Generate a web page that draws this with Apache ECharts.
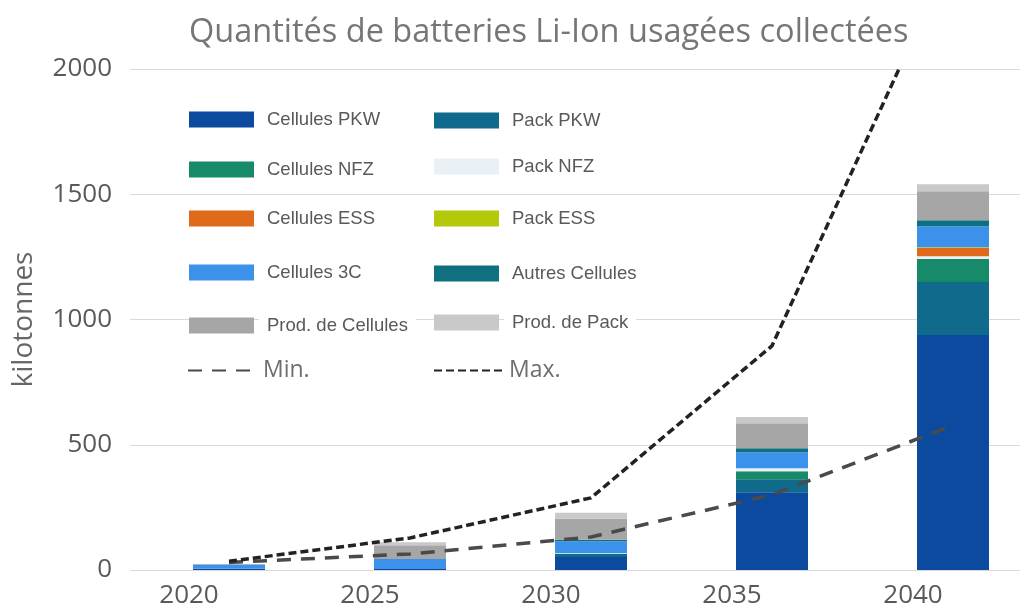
<!DOCTYPE html>
<html><head><meta charset="utf-8">
<script src="https://cdn.jsdelivr.net/npm/echarts@6/dist/echarts.min.js"></script>
<style>html,body{margin:0;padding:0;background:#fff}#c{width:1035px;height:616px}</style>
</head><body><div id="c"></div>
<script>
// ---- data ----
const years = ['2020', '2025', '2030', '2035', '2040'];
const yTicks = [0, 500, 1000, 1500, 2000];
const seriesNames = ['Cellules PKW', 'Pack PKW', 'Cellules NFZ', 'Pack NFZ', 'Cellules ESS', 'Pack ESS', 'Cellules 3C', 'Autres Cellules', 'Prod. de Cellules', 'Prod. de Pack'];
const cellulesPKW    = [5, 4, 52, 310, 938];
const packPKW        = [0, 0, 12, 52, 212];
const cellulesNFZ    = [0, 0, 0, 32, 92];
const packNFZ        = [0, 0, 3, 12, 10];
const cellulesESS    = [0, 0, 0, 0, 34];
const packESS        = [0, 0, 0, 0, 2];
const cellules3C     = [17, 40, 48, 64, 84];
const autresCellules = [0, 0, 6, 16, 24];
const prodCellules   = [2, 55, 84, 100, 116];
const prodPack       = [0, 12, 24, 25, 28];
const minName = 'Min.';
const maxName = 'Max.';
const minValues = [30, 64, 132, 300, 578];
const maxValues = [35, 128, 288, 895, 2470];

// ---- styles ----
const barValues = [cellulesPKW, packPKW, cellulesNFZ, packNFZ, cellulesESS, packESS, cellules3C, autresCellules, prodCellules, prodPack];
const barColors = ['#0b4a9e', '#0f6a8c', '#178a6a', '#e9f1f7', '#e06a1a', '#b4c80c', '#3c92ea', '#0f7180', '#a6a6a6', '#c9c9c9'];

const series = barValues.map((vals, i) => ({
  name: seriesNames[i], type: 'bar', stack: 'total',
  xAxisIndex: 1, yAxisIndex: 1, barWidth: 72, clip: false,
  itemStyle: { color: barColors[i] },
  data: vals, z: 2
}));
series.push({
  name: minName, type: 'line', xAxisIndex: 1, yAxisIndex: 1, symbol: 'none', smooth: false,
  lineStyle: { color: '#4a4a4a', width: 3.5, type: [14, 10] }, itemStyle: { color: '#4a4a4a' },
  data: minValues, z: 3, clip: true
});
series.push({
  name: maxName, type: 'line', xAxisIndex: 1, yAxisIndex: 1, symbol: 'none', smooth: false,
  lineStyle: { color: '#222', width: 3.5, type: [8, 4] }, itemStyle: { color: '#222' },
  data: maxValues, z: 3, clip: true
});

// legend layout (two columns)
const leftCol = [0, 2, 4, 6, 8];
const rightCol = [1, 3, 5, 7, 9];
const leftRows = [119, 169, 218, 272, 325];
const rightRows = [120, 166, 218, 273, 322];
const legends = [];
function barLegend(idx, x, cy) {
  legends.push({
    data: [seriesNames[idx]], left: x, top: cy - 13, padding: 0,
    itemWidth: 65, itemHeight: 16, selectedMode: false, icon: 'rect',
    textStyle: { fontFamily: 'Liberation Sans', fontSize: 18.5, color: '#595959', backgroundColor: '#fff', padding: [4, 8, 4, 8] }
  });
}
leftCol.forEach((idx, r) => barLegend(idx, 189, leftRows[r]));
rightCol.forEach((idx, r) => barLegend(idx, 434, rightRows[r]));
function lineLegend(name, x, cy) {
  legends.push({
    data: [name], left: x, top: cy - 15, padding: 0,
    itemWidth: 70, itemHeight: 14, selectedMode: false,
    itemStyle: { opacity: 0 },
    textStyle: { fontFamily: 'Open Sans', fontSize: 23, color: '#6e6e6e' }
  });
}
lineLegend(minName, 187, 374);
lineLegend(maxName, 433, 374);

const chart = echarts.init(document.getElementById('c'), null, { renderer: 'canvas' });
chart.setOption({
  backgroundColor: '#fff',
  animation: false,
  title: {
    text: 'Quantités de batteries Li-Ion usagées collectées',
    left: 184, top: 11,
    textStyle: { fontFamily: 'Open Sans', fontSize: 32.5, fontWeight: 'normal', color: '#767676' }
  },
  legend: legends,
  grid: [
    { left: 130, right: 15, top: 69, bottom: 46 },
    { left: 229, width: 724, top: 69, bottom: 46 }
  ],
  xAxis: [
    { gridIndex: 0, type: 'value', show: false, min: 0, max: 1 },
    {
      gridIndex: 1, type: 'category', data: years, boundaryGap: false,
      axisLine: { show: false }, axisTick: { show: false },
      axisLabel: { fontFamily: 'Open Sans', fontSize: 26, color: '#595959', margin: 13, padding: [0, 80, 0, 0] }
    }
  ],
  yAxis: [
    {
      gridIndex: 0, type: 'value', min: yTicks[0], max: yTicks[yTicks.length - 1], interval: 500,
      name: 'kilotonnes', nameLocation: 'middle', nameGap: 92,
      nameTextStyle: { fontFamily: 'Open Sans', fontSize: 28, color: '#666' },
      axisLine: { show: false }, axisTick: { show: false },
      axisLabel: { fontFamily: 'Open Sans', fontSize: 26, color: '#595959', margin: 18, formatter: v => String(v) },
      splitLine: { lineStyle: { color: '#d9d9d9', width: 1 } }
    },
    {
      gridIndex: 1, type: 'value', min: yTicks[0], max: yTicks[yTicks.length - 1], interval: 500,
      show: false, splitLine: { show: false }
    }
  ],
  series: series
});
</script>
</body></html>
